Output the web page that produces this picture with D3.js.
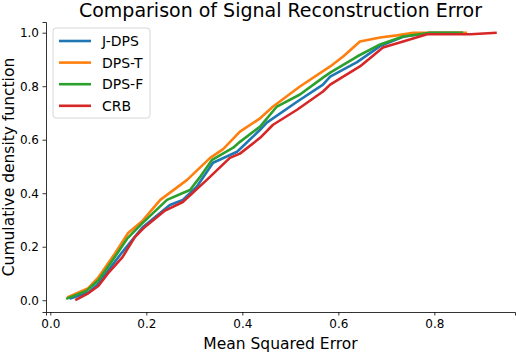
<!DOCTYPE html>
<html>
  <head>
    <meta charset="utf-8">
    <title>Signal reconstruction error</title>
    <style>
      body { margin: 0; background: #fff; }
      svg text { font-family: "DejaVu Sans", sans-serif; fill: #000; }
      .line { fill: none; stroke-width: 2.6; stroke-linejoin: round; }
    </style>
  </head>
  <body>
    <script src="https://d3js.org/d3.v7.min.js"></script>
    <script>

        // values
        var seriesNames = ["J-DPS", "DPS-T", "DPS-F", "CRB"];
        var seriesColors = ["#1f77b4", "#ff7f0e", "#2ca02c", "#d62728"];

        var jdpsX = [0.040, 0.080, 0.100, 0.120, 0.150, 0.193, 0.249, 0.276, 0.305, 0.339, 0.389, 0.437, 0.451, 0.514, 0.568, 0.583, 0.639, 0.687, 0.735, 0.790, 0.860];
        var jdpsY = [0.005, 0.030, 0.062, 0.110, 0.180, 0.274, 0.356, 0.375, 0.424, 0.514, 0.555, 0.637, 0.664, 0.742, 0.806, 0.836, 0.890, 0.950, 0.985, 1.000, 1.000];

        var dpstX = [0.035, 0.079, 0.100, 0.135, 0.162, 0.191, 0.229, 0.285, 0.333, 0.360, 0.395, 0.437, 0.464, 0.520, 0.583, 0.610, 0.645, 0.687, 0.722, 0.756, 0.868];
        var dpstY = [0.010, 0.045, 0.085, 0.176, 0.251, 0.295, 0.375, 0.450, 0.532, 0.565, 0.630, 0.680, 0.724, 0.799, 0.874, 0.911, 0.967, 0.982, 0.990, 1.000, 1.000];

        var dpsfX = [0.033, 0.075, 0.100, 0.130, 0.160, 0.187, 0.243, 0.276, 0.291, 0.312, 0.337, 0.381, 0.395, 0.437, 0.472, 0.520, 0.568, 0.583, 0.639, 0.687, 0.735, 0.791, 0.860];
        var dpsfY = [0.005, 0.035, 0.075, 0.150, 0.230, 0.280, 0.375, 0.401, 0.412, 0.461, 0.525, 0.570, 0.592, 0.649, 0.724, 0.769, 0.832, 0.851, 0.911, 0.956, 0.986, 1.000, 1.000];

        var crbX = [0.052, 0.079, 0.100, 0.120, 0.150, 0.176, 0.197, 0.239, 0.276, 0.326, 0.374, 0.395, 0.437, 0.464, 0.514, 0.568, 0.583, 0.645, 0.693, 0.735, 0.785, 0.875, 0.930];
        var crbY = [0.000, 0.026, 0.053, 0.100, 0.160, 0.236, 0.274, 0.335, 0.367, 0.450, 0.532, 0.548, 0.607, 0.656, 0.712, 0.780, 0.806, 0.874, 0.945, 0.967, 0.994, 0.994, 1.000];

        var xTicks = [0.0, 0.2, 0.4, 0.6, 0.8];
        var yTicks = [0.0, 0.2, 0.4, 0.6, 0.8, 1.0];

        var allX = [jdpsX, dpstX, dpsfX, crbX];
        var allY = [jdpsY, dpstY, dpsfY, crbY];

        // set the dimensions and margins of the graph
        var W = 516, H = 352;
        var margin = {top: 22, right: 1, bottom: 40, left: 46},
            width = W - margin.left - margin.right,
            height = H - margin.top - margin.bottom;

        var x = d3.scaleLinear().domain([-0.009, 0.968]).range([0, width]);
        var y = d3.scaleLinear().domain([-0.044, 1.04]).range([height, 0]);

        var svg = d3.select("body").append("svg")
            .attr("width", W)
            .attr("height", H);

        var g = svg.append("g")
            .attr("transform", "translate(" + margin.left + "," + margin.top + ")");

        // lines
        var line = d3.line()
            .x(function(d) { return x(d[0]); })
            .y(function(d) { return y(d[1]); });

        seriesNames.forEach(function(name, i) {
          var pts = allX[i].map(function(v, j) { return [v, allY[i][j]]; });
          g.append("path")
            .datum(pts)
            .attr("class", "line")
            .attr("stroke", seriesColors[i])
            .attr("d", line);
        });

        // axes
        var xAxis = g.append("g")
            .attr("transform", "translate(0," + height + ")")
            .call(d3.axisBottom(x).tickValues(xTicks).tickFormat(d3.format(".1f")).tickSizeOuter(0).tickSize(3.5).tickPadding(3.5));
        var yAxis = g.append("g")
            .call(d3.axisLeft(y).tickValues(yTicks).tickFormat(d3.format(".1f")).tickSizeOuter(0).tickSize(3.5).tickPadding(3.5));

        [xAxis, yAxis].forEach(function(a) {
          a.selectAll("text").style("font-size", "12px").style("font-family", "DejaVu Sans");
          a.selectAll("line").attr("stroke", "#000").attr("stroke-width", 0.8);
          a.select(".domain").attr("stroke", "#000").attr("stroke-width", 0.8);
        });

        // title and axis labels
        svg.append("text")
          .attr("x", margin.left + width / 2)
          .attr("y", 17)
          .attr("text-anchor", "middle")
          .style("font-size", "19px")
          .text("Comparison of Signal Reconstruction Error");

        svg.append("text")
          .attr("x", margin.left + width / 2)
          .attr("y", 349)
          .attr("text-anchor", "middle")
          .style("font-size", "15.5px")
          .text("Mean Squared Error");

        svg.append("text")
          .attr("transform", "translate(13.5," + (margin.top + height / 2) + ") rotate(-90)")
          .attr("text-anchor", "middle")
          .style("font-size", "15.5px")
          .text("Cumulative density function");

        // legend
        var leg = svg.append("g").attr("transform", "translate(53,28)");
        leg.append("rect")
          .attr("width", 97).attr("height", 90)
          .attr("rx", 3).attr("ry", 3)
          .attr("fill", "#fff").attr("fill-opacity", 0.8)
          .attr("stroke", "#ccc").attr("stroke-width", 0.8);

        seriesNames.forEach(function(name, i) {
          var ly = 13 + i * 21.6;
          leg.append("line")
            .attr("x1", 6).attr("x2", 38)
            .attr("y1", ly).attr("y2", ly)
            .attr("stroke", seriesColors[i]).attr("stroke-width", 2.6);
          leg.append("text")
            .attr("x", 49).attr("y", ly + 5)
            .style("font-size", "14px")
            .text(name);
        });

    </script>
  </body>
</html>
